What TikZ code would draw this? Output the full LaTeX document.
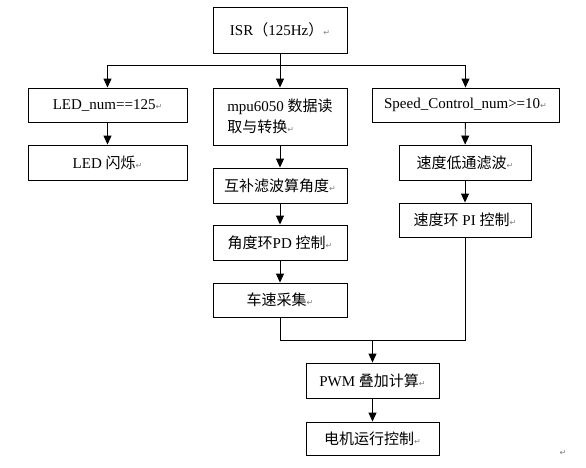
\documentclass[tikz,border=0pt]{standalone}
\usepackage{fontspec}
\setmainfont{Liberation Serif}
\newfontfamily\cjk{Noto Sans CJK SC}
\newfontfamily\symfont{DejaVu Sans}
\usetikzlibrary{arrows.meta}
\newcommand{\retmark}{{\color{gray}\symfont\fontsize{8}{8}\selectfont ↵}}

\begin{document}
\begin{tikzpicture}[x=1pt,y=-1pt,
    box/.style={draw,line width=0.9pt,inner sep=0pt,
      font=\fontsize{15}{21}\selectfont},
    flow/.style={-{Triangle[width=8pt,length=9pt]},line width=0.9pt}]
  \useasboundingbox (0,0) rectangle (586,467);
  % boxes
  \node[box,minimum width=134pt,minimum height=46pt] (isr) at (280,30)
    {ISR{\cjk（}125Hz{\cjk）}\retmark};
  \node[box,minimum width=159pt,minimum height=34pt] (lednum) at (107.5,105)
    {LED\_num==125\retmark};
  \node[box,minimum width=134pt,minimum height=57pt,align=left] (mpu) at (280,116.5)
    {mpu6050 {\cjk 数据读}\\{\cjk 取与转换}\retmark\hspace*{26pt}};
  \node[box,minimum width=187pt,minimum height=34pt] (speed) at (465.5,105)
    {Speed\_Control\_num>=10\retmark};
  \node[box,minimum width=159pt,minimum height=35pt] (ledflash) at (107.5,162.5)
    {LED {\cjk 闪烁}\retmark};
  \node[box,minimum width=132pt,minimum height=35pt] (lowpass) at (465,162.5)
    {\cjk 速度低通滤波\retmark};
  \node[box,minimum width=134pt,minimum height=35pt] (comp) at (280,185.5)
    {\cjk 互补滤波算角度\retmark};
  \node[box,minimum width=132pt,minimum height=34pt] (speedpi) at (465,220)
    {{\cjk 速度环} PI {\cjk 控制}\retmark};
  \node[box,minimum width=134pt,minimum height=35pt] (angle) at (280,242.5)
    {{\cjk 角度环}PD {\cjk 控制}\retmark};
  \node[box,minimum width=134pt,minimum height=34pt] (wheel) at (280,300)
    {\cjk 车速采集\retmark};
  \node[box,minimum width=133pt,minimum height=35pt] (pwm) at (372.5,380.5)
    {PWM {\cjk 叠加计算}\retmark};
  \node[box,minimum width=133pt,minimum height=33pt] (motor) at (372.5,438.5)
    {\cjk 电机运行控制\retmark};
  \node[inner sep=0pt] (endmark) at (563,453) {\retmark};
  % split and merge points
  \coordinate (split) at (280,65);
  \coordinate (merge) at (372.5,340);
  \begin{scope}[flow]
    \draw[-] (isr) to (split);
    \draw (split) -| (lednum);
    \draw (split) to (mpu);
    \draw (split) -| (speed);
    \draw (lednum) to (ledflash);
    \draw (mpu) to (comp);
    \draw (comp) to (angle);
    \draw (angle) to (wheel);
    \draw (speed) to (lowpass);
    \draw (lowpass) to (speedpi);
    \draw[-] (wheel) |- (merge);
    \draw[-] (speedpi) |- (merge);
    \draw (merge) to (pwm);
    \draw (pwm) to (motor);
  \end{scope}
\end{tikzpicture}
\end{document}
